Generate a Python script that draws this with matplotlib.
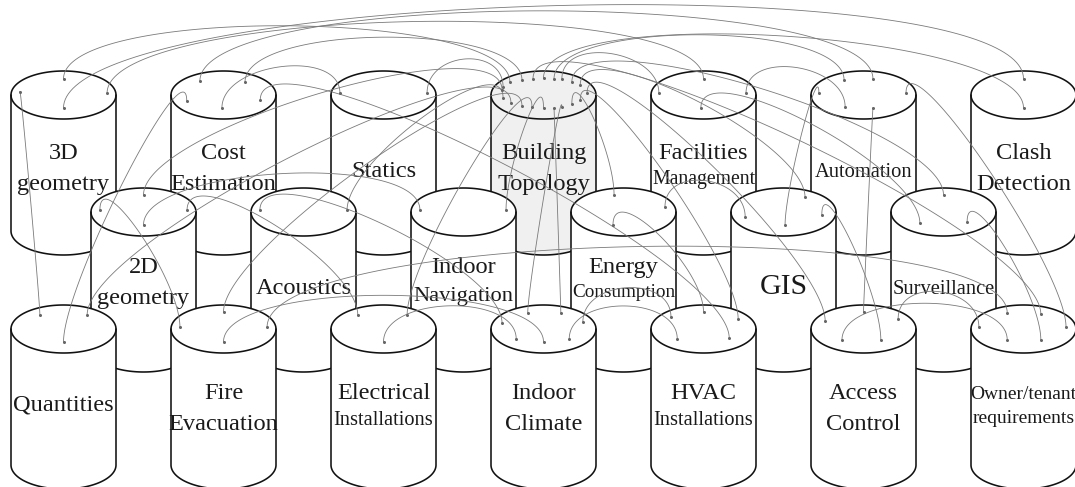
import numpy as np
import matplotlib
matplotlib.use("Agg")
import matplotlib.pyplot as plt
from matplotlib.patches import Polygon

# ---------------- data ----------------
modules = ["3D", "CE", "ST", "BT", "FM", "AU", "CD",
           "2D", "AC", "IN", "EC", "GIS", "SU",
           "QU", "FE", "EI", "IC", "HV", "ACC", "OT"]
module_row = [0, 0, 0, 0, 0, 0, 0,
              1, 1, 1, 1, 1, 1,
              2, 2, 2, 2, 2, 2, 2]
module_col = [0, 1, 2, 3, 4, 5, 6,
              0, 1, 2, 3, 4, 5,
              0, 1, 2, 3, 4, 5, 6]
labels = {
    "3D": ["3D", "geometry"], "CE": ["Cost", "Estimation"], "ST": ["Statics"],
    "BT": ["Building", "Topology"], "FM": ["Facilities", "Management"],
    "AU": ["Automation"], "CD": ["Clash", "Detection"],
    "2D": ["2D", "geometry"], "AC": ["Acoustics"], "IN": ["Indoor", "Navigation"],
    "EC": ["Energy", "Consumption"], "GIS": ["GIS"], "SU": ["Surveillance"],
    "QU": ["Quantities"], "FE": ["Fire", "Evacuation"],
    "EI": ["Electrical", "Installations"], "IC": ["Indoor", "Climate"],
    "HV": ["HVAC", "Installations"], "ACC": ["Access", "Control"],
    "OT": ["Owner/tenant", "requirements"],
}
highlighted = ["BT"]

# connections: (module, slot on top ellipse (u, v)) <-> (module, slot)
edges = [
    ("BT", (-0.64, -0.54), "3D", (0.00, -0.67)),
    ("BT", (-0.41, -0.62), "CE", (0.41, -0.54)),
    ("BT", (-0.77, -0.33), "ST", (0.83, -0.08)),
    ("BT", (-0.79, -0.21), "2D", (0.00, -0.71)),
    ("BT", (-0.77, 0.12), "AC", (0.83, -0.08)),
    ("BT", (-0.62, 0.33), "QU", (0.45, -0.58)),
    ("BT", (-0.41, 0.46), "FE", (0.00, -0.71)),
    ("BT", (-0.22, 0.50), "EI", (0.45, -0.58)),
    ("BT", (0.00, 0.54), "IN", (0.81, -0.08)),
    ("BT", (0.20, 0.54), "IC", (0.33, -0.67)),
    ("BT", (0.35, 0.50), "IC", (-0.30, -0.67)),
    ("BT", (0.54, 0.38), "EC", (-0.18, -0.71)),
    ("BT", (0.70, 0.21), "HV", (0.66, -0.42)),
    ("BT", (0.83, -0.08), "ACC", (-0.73, -0.33)),
    ("BT", (0.70, -0.42), "GIS", (0.41, -0.62)),
    ("BT", (0.54, -0.54), "SU", (0.00, -0.71)),
    ("BT", (0.35, -0.67), "FM", (-0.85, -0.08)),
    ("BT", (0.20, -0.67), "AU", (-0.37, -0.62)),
    ("BT", (0.00, -0.71), "CD", (0.00, 0.54)),
    ("BT", (-0.20, -0.67), "OT", (0.33, -0.62)),
    ("3D", (0.00, 0.54), "CD", (0.00, -0.67)),
    ("3D", (0.83, -0.08), "FM", (0.00, -0.67)),
    ("3D", (-0.83, -0.12), "QU", (-0.45, -0.58)),
    ("CE", (-0.70, 0.25), "QU", (0.00, 0.54)),
    ("CE", (-0.45, -0.58), "AU", (0.18, -0.67)),
    ("CE", (-0.03, 0.54), "ST", (-0.83, -0.08)),
    ("CE", (0.70, 0.21), "HV", (0.49, 0.38)),
    ("2D", (0.00, 0.54), "IN", (-0.83, -0.08)),
    ("FE", (0.83, -0.08), "OT", (-0.31, -0.67)),
    ("ACC", (0.66, -0.42), "OT", (-0.85, -0.08)),
    ("IC", (0.49, 0.42), "HV", (-0.50, 0.42)),
    ("IC", (0.75, -0.29), "HV", (-0.62, -0.50)),
    ("EI", (0.00, 0.54), "IC", (-0.52, 0.42)),
    ("EC", (-0.20, 0.54), "HV", (0.00, -0.71)),
    ("EC", (0.79, -0.21), "GIS", (-0.73, 0.21)),
    ("FM", (0.81, -0.08), "AU", (-0.35, 0.50)),
    ("FM", (-0.05, 0.54), "SU", (-0.45, 0.46)),
    ("AU", (-0.85, -0.08), "GIS", (0.03, 0.54)),
    ("AU", (0.81, -0.08), "OT", (0.81, -0.08)),
    ("AU", (0.18, 0.54), "ACC", (0.00, -0.71)),
    ("2D", (-0.83, -0.08), "FE", (-0.83, -0.08)),
    ("FE", (0.00, 0.54), "IC", (0.00, 0.54)),
    ("2D", (0.83, -0.08), "EI", (-0.49, -0.58)),
    ("AC", (-0.83, -0.08), "IC", (-0.79, -0.25)),
    ("GIS", (0.73, 0.12), "ACC", (0.33, 0.46)),
    ("SU", (0.45, 0.42), "OT", (0.33, 0.46)),
    ("ACC", (-0.41, 0.46), "OT", (-0.31, 0.46)),
]

# ---------------- style / layout ----------------
W, H = 1075, 487
A, B, BODY = 52.5, 24.0, 136.0
X0, DX = 63.5, 160.0
ROW_Y = [95.0, 212.0, 329.0]
ROW_XSHIFT = [0.0, 80.0, 0.0]
ROW_LABEL_BASE = [64.0, 61.0, 70.0]
SINGLE_BASE = 82.0
BIG = 17.6
SMALL_SIZES = {"Management": 14.2, "Automation": 14.8, "Navigation": 16.2,
               "Consumption": 13.8, "Installations": 14.7, "Surveillance": 14.8,
               "Owner/tenant": 14.0, "requirements": 14.0, "GIS": 21.5}
FONT = ["Liberation Serif", "DejaVu Serif"]

fig = plt.figure(figsize=(W / 100, H / 100), dpi=100)
ax = fig.add_axes([0, 0, 1, 1])
ax.set_xlim(0, W)
ax.set_ylim(H, 0)
ax.axis("off")

centers = {}
for m, r, c in zip(modules, module_row, module_col):
    centers[m] = (X0 + ROW_XSHIFT[r] + DX * c, ROW_Y[r])

t_up = np.linspace(np.pi, 2 * np.pi, 80)   # upper half (y smaller)
t_dn = np.linspace(0, np.pi, 80)           # lower half (y larger)


def draw_cylinder(m, z):
    cx, cy = centers[m]
    fill = "#f0f0f0" if m in highlighted else "white"
    top = np.column_stack([cx + A * np.cos(t_up), cy + B * np.sin(t_up)])
    bot = np.column_stack([cx + A * np.cos(t_dn), cy + BODY + B * np.sin(t_dn)])
    outline = np.vstack([top, bot])  # top arc left->right, bottom arc right->left
    ax.add_patch(Polygon(outline, closed=True, facecolor=fill, edgecolor="#111111",
                         lw=1.15, zorder=z, joinstyle="round"))
    front = np.column_stack([cx + A * np.cos(t_dn), cy + B * np.sin(t_dn)])
    ax.plot(front[:, 0], front[:, 1], color="#111111", lw=1.15, zorder=z + 0.1,
            solid_capstyle="round")
    lines = labels[m]
    r = module_row[modules.index(m)]
    if len(lines) == 1:
        s = SMALL_SIZES.get(lines[0], BIG)
        ax.text(cx, cy + SINGLE_BASE, lines[0], ha="center", va="baseline",
                fontsize=s, family=FONT, color="#1a1a1a", zorder=z + 0.2)
    else:
        y = cy + ROW_LABEL_BASE[r]
        for i, ln in enumerate(lines):
            s = SMALL_SIZES.get(ln, BIG)
            if i > 0:
                y += 1.25 * s * 100 / 72
            ax.text(cx, y, ln, ha="center", va="baseline", fontsize=s,
                    family=FONT, color="#1a1a1a", zorder=z + 0.2)


for r in range(3):
    for m, rr in zip(modules, module_row):
        if rr == r:
            draw_cylinder(m, 2 + r)


def slot_xy(m, uv):
    cx, cy = centers[m]
    return np.array([cx + uv[0] * A, cy + uv[1] * B])


tt = np.linspace(0, 1, 120)[:, None]
for m1, s1, m2, s2 in edges:
    p0 = slot_xy(m1, s1)
    p3 = slot_xy(m2, s2)
    dxe, dye = abs(p3[0] - p0[0]), abs(p3[1] - p0[1])
    d = np.hypot(dxe, dye)
    h = (35 + 0.085 * d) * min(1.0, 3 * dxe / max(dye, 1.0))
    p1 = p0 - np.array([0, h])
    p2 = p3 - np.array([0, h])
    curve = ((1 - tt) ** 3) * p0 + 3 * ((1 - tt) ** 2) * tt * p1 + \
        3 * (1 - tt) * tt ** 2 * p2 + tt ** 3 * p3
    ax.plot(curve[:, 0], curve[:, 1], color="#7a7a7a", lw=0.6, zorder=10)
    ax.plot([p0[0], p3[0]], [p0[1], p3[1]], "o", ms=2.2, color="#666666",
            mec="none", zorder=11)

fig.savefig("out.png", dpi=100)
